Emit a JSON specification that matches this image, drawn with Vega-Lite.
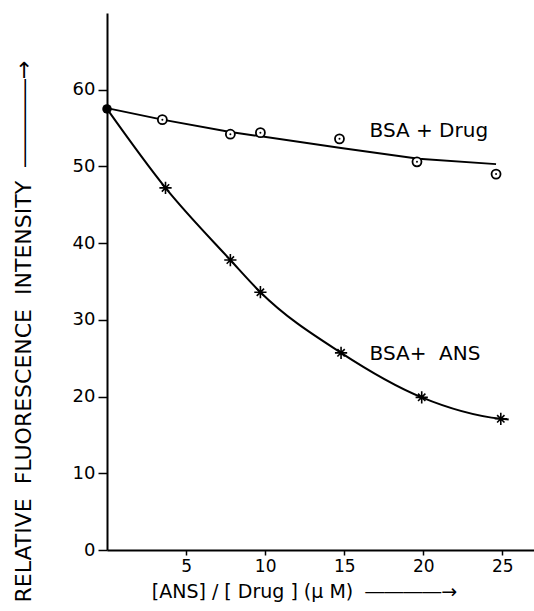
{
  "$schema": "https://vega.github.io/schema/vega-lite/v6.json",
  "width": 427,
  "height": 537,
  "autosize": {"type": "none"},
  "padding": {"left": 107, "top": 13, "right": 0, "bottom": 61},
  "background": "white",
  "config": {
    "view": {"stroke": null},
    "font": "DejaVu Sans",
    "axis": {
      "grid": false,
      "domainColor": "black",
      "domainWidth": 2,
      "tickColor": "black",
      "tickWidth": 1.5,
      "labelColor": "black",
      "titleColor": "black",
      "titleFontWeight": "normal",
      "labelFont": "DejaVu Sans",
      "titleFont": "DejaVu Sans"
    }
  },
  "datasets": {
    "drugPts": [
      {"x": 3.5, "y": 56.1}, {"x": 7.8, "y": 54.2}, {"x": 9.7, "y": 54.4},
      {"x": 14.7, "y": 53.6}, {"x": 19.6, "y": 50.6}, {"x": 24.6, "y": 49.0}
    ],
    "drugLine": [
      {"x": 0, "y": 57.6}, {"x": 3.5, "y": 56.1}, {"x": 7.8, "y": 54.5},
      {"x": 14.8, "y": 52.4}, {"x": 19.7, "y": 51.0}, {"x": 24.6, "y": 50.3}
    ],
    "ansPts": [
      {"x": 3.7, "y": 47.2}, {"x": 7.8, "y": 37.8}, {"x": 9.7, "y": 33.6},
      {"x": 14.8, "y": 25.7}, {"x": 19.9, "y": 19.9}, {"x": 24.9, "y": 17.1}
    ],
    "ansLine": [
      {"x": 0, "y": 57.5}, {"x": 3.7, "y": 47.2}, {"x": 7.8, "y": 37.8},
      {"x": 9.7, "y": 33.6}, {"x": 14.8, "y": 25.7}, {"x": 19.9, "y": 19.9},
      {"x": 24.9, "y": 17.1}, {"x": 25.4, "y": 17.0}
    ],
    "start": [{"x": 0, "y": 57.5}]
  },
  "layer": [
    {
      "data": {"name": "drugLine"},
      "mark": {"type": "line", "color": "black", "strokeWidth": 2},
      "encoding": {
        "x": {
          "field": "x", "type": "quantitative",
          "scale": {"domain": [0, 27], "nice": false, "zero": false},
          "axis": {
            "values": [5, 10, 15, 20, 25],
            "title": "[ANS] / [\u00a0Drug\u00a0] (\u03bc\u00a0M)\u00a0\u00a0――――→",
            "titleFontSize": 19,
            "labelFontSize": 17,
            "tickSize": 5,
            "labelPadding": 3,
            "titleX": 197,
            "titleY": 47,
            "titleAlign": "center",
            "titleBaseline": "alphabetic"
          }
        },
        "y": {
          "field": "y", "type": "quantitative",
          "scale": {"domain": [0, 70], "nice": false},
          "axis": {
            "values": [0, 10, 20, 30, 40, 50, 60],
            "title": "RELATIVE\u00a0\u00a0FLUORESCENCE\u00a0\u00a0INTENSITY\u00a0\u00a0――――→",
            "titleFontSize": 22,
            "labelFontSize": 18,
            "tickSize": 9,
            "labelPadding": 3,
            "titleAngle": -90,
            "titleX": -77,
            "titleY": 318,
            "titleAlign": "center",
            "titleBaseline": "alphabetic"
          }
        }
      }
    },
    {
      "data": {"name": "ansLine"},
      "mark": {"type": "line", "color": "black", "strokeWidth": 2, "interpolate": "monotone"},
      "encoding": {
        "x": {"field": "x", "type": "quantitative"},
        "y": {"field": "y", "type": "quantitative"}
      }
    },
    {
      "data": {"name": "drugPts"},
      "mark": {"type": "point", "shape": "circle", "size": 81, "filled": false, "color": "black", "strokeWidth": 1.8, "opacity": 1, "fill": "white", "fillOpacity": 1},
      "encoding": {
        "x": {"field": "x", "type": "quantitative"},
        "y": {"field": "y", "type": "quantitative"}
      }
    },
    {
      "data": {"name": "drugPts"},
      "mark": {"type": "point", "shape": "circle", "size": 4, "filled": true, "color": "black", "opacity": 1},
      "encoding": {
        "x": {"field": "x", "type": "quantitative"},
        "y": {"field": "y", "type": "quantitative"}
      }
    },
    {
      "data": {"name": "ansPts"},
      "mark": {"type": "point", "shape": "M-1,0L1,0M0,-1L0,1M-0.6,-0.6L0.6,0.6M-0.6,0.6L0.6,-0.6", "size": 150, "filled": false, "color": "black", "strokeWidth": 1.6, "opacity": 1},
      "encoding": {
        "x": {"field": "x", "type": "quantitative"},
        "y": {"field": "y", "type": "quantitative"}
      }
    },
    {
      "data": {"name": "start"},
      "mark": {"type": "point", "shape": "circle", "size": 90, "filled": true, "color": "black", "opacity": 1},
      "encoding": {
        "x": {"field": "x", "type": "quantitative"},
        "y": {"field": "y", "type": "quantitative"}
      }
    },
    {
      "data": {"values": [{"label": "BSA + Drug"}]},
      "mark": {"type": "text", "align": "left", "baseline": "alphabetic", "fontSize": 20, "font": "DejaVu Sans", "color": "black"},
      "encoding": {
        "x": {"datum": 16.6, "type": "quantitative"},
        "y": {"datum": 53.8, "type": "quantitative"},
        "text": {"field": "label"}
      }
    },
    {
      "data": {"values": [{"label": "BSA+\u00a0\u00a0ANS"}]},
      "mark": {"type": "text", "align": "left", "baseline": "alphabetic", "fontSize": 20, "font": "DejaVu Sans", "color": "black"},
      "encoding": {
        "x": {"datum": 16.6, "type": "quantitative"},
        "y": {"datum": 24.8, "type": "quantitative"},
        "text": {"field": "label"}
      }
    }
  ]
}
